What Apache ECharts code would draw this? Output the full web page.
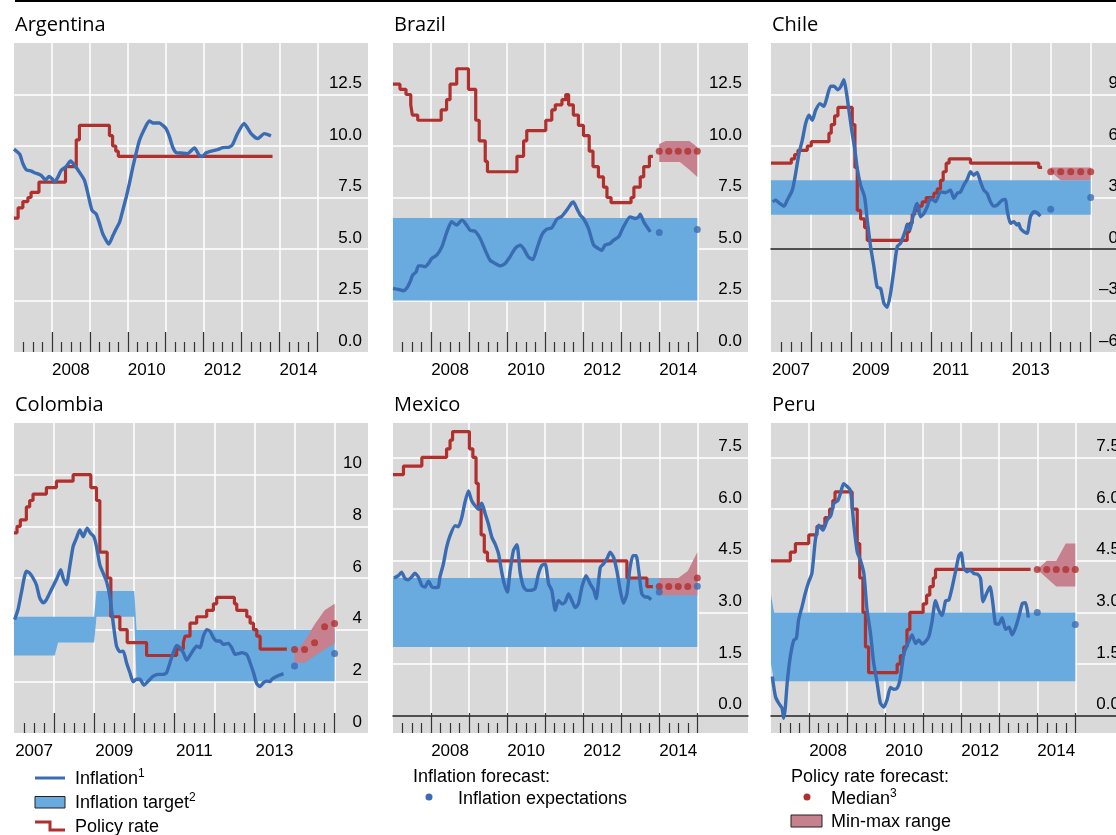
<!DOCTYPE html>
<html><head><meta charset="utf-8">
<script src="https://cdn.jsdelivr.net/npm/echarts@6/dist/echarts.min.js"></script>
<style>html,body{margin:0;padding:0;background:#fff}#c{width:1116px;height:835px}</style>
</head><body><div id="c"></div>
<script>
// x values are months since January 2007
const majorTicks = [12,24,36,48,60,72,84,96];
const minorTicks = [3,6,9,15,18,21,27,30,33,39,42,45,51,54,57,63,66,69,75,78,81,87,90,93];
const evenYearLabels = [18,42,66,90];   // 2008, 2010, 2012, 2014
const oddYearLabels = [6,30,54,78];     // 2007, 2009, 2011, 2013
const ticks15 = [0,2.5,5,7.5,10,12.5];
const ticksChile = [-6,-3,0,3,6,9];
const ticksColombia = [0,2,4,6,8,10];
const ticks85 = [0,1.5,3,4.5,6,7.5];

// Argentina
const argInfl = [[0,9.85],[1.8,9.6],[2.8,9.15],[3.9,8.85],[5.5,8.78],[6.5,8.7],[7.6,8.65],[8.6,8.57],[10,8.36],[11.1,8.52],[12.1,8.4],[12.8,8.25],[13.9,8.49],[14.9,8.81],[16.5,9.0],[17.9,9.27],[19.2,9.06],[20.7,8.73],[22.3,8.33],[23.4,7.68],[24.7,6.87],[26,6.7],[27.1,6.22],[28.1,5.73],[29.2,5.41],[30,5.24],[31.3,5.65],[32.3,5.97],[33.4,6.3],[34.4,6.87],[35.5,7.52],[36.5,8.17],[37.6,8.98],[38.6,9.63],[39.7,10.28],[41.3,10.84],[42.8,11.22],[43.9,11.12],[46,11.12],[47.1,11.0],[48.1,10.84],[49.2,10.44],[50.2,9.95],[51.3,9.68],[52.8,9.66],[54.9,9.63],[57.1,9.9],[58.6,9.55],[59.7,9.5],[60.7,9.66],[62.8,9.76],[64.4,9.82],[66,9.92],[68.1,9.95],[69.2,10.08],[70.7,10.6],[72.8,11.09],[75,10.6],[77.1,10.36],[79.2,10.6],[81.3,10.49]];
const argPolicy = [[0,6.5],[1.3,7.0],[2.8,7.3],[4.4,7.5],[5.4,7.75],[7.9,8.25],[16.3,9.0],[19.7,10.3],[20.7,11.0],[30.2,10.5],[31.2,10.0],[32.2,9.75],[33,9.5],[81.8,9.5]];

// Brazil
const braInfl = [[0,3.09],[1.7,3.04],[3.3,2.97],[4.3,3.09],[5.4,3.41],[6.2,3.73],[7.3,3.89],[8,4.18],[9.1,4.18],[10.1,4.14],[11.2,4.3],[12.2,4.54],[13.8,4.7],[15.4,5.1],[17,5.83],[18.5,6.32],[20.1,6.16],[21.7,6.4],[22.7,6.27],[24.3,5.91],[25.9,5.86],[27.5,5.51],[29.1,4.94],[30.6,4.46],[32.2,4.3],[33.8,4.18],[35.4,4.3],[36.9,4.62],[38.5,5.02],[40.1,5.19],[41.2,5.02],[42.7,4.62],[44.1,4.49],[45.4,5.02],[46.9,5.67],[48.5,5.96],[50.1,6.03],[51.7,6.45],[53.3,6.59],[54.8,6.88],[56.4,7.24],[56.9,7.29],[58,6.96],[59.1,6.64],[60.1,6.48],[61.7,5.99],[63.3,5.19],[64.8,5.02],[65.9,4.94],[66.9,5.19],[68.5,5.27],[69.6,5.43],[71.2,5.59],[72.7,6.07],[74.8,6.56],[76.4,6.48],[77.5,6.56],[78,6.69],[79.1,6.32],[81.2,5.83]];
const braPolicy = [[0,13.0],[2.2,12.75],[4.1,12.5],[5.6,12.0],[6.1,11.5],[7.8,11.25],[15.2,11.75],[16.9,12.25],[18,13.0],[20.1,13.75],[23.8,12.75],[26.1,11.25],[27.2,10.25],[29.1,9.25],[29.8,8.75],[39.1,9.5],[41.2,10.25],[42.2,10.75],[48.2,11.25],[50.1,11.75],[51.2,12.0],[53.3,12.25],[54.5,12.5],[55.4,12.0],[56.9,11.5],[58.5,11.0],[60.1,10.5],[61.9,9.75],[63.1,9.0],[64.8,8.5],[66.4,8.0],[67.5,7.5],[68.8,7.25],[75.1,7.5],[76,8.0],[78,8.5],[79.1,9.0],[80.9,9.5],[82,9.5]];
const braTarget = [[0,2.5,6.5],[96,2.5,6.5]];
const braExp = [[84,5.8],[96,5.95]];
const braMedian = [[84,9.75],[87,9.75],[90,9.75],[93,9.75],[96,9.75]];
const braRange = [[84,9.22,10.1],[86,9.22,10.24],[90.5,9.22,10.24],[93.5,8.85,10.24],[96,8.5,9.95]];

// Chile
const chiInfl = [[0.5,2.75],[1.4,2.85],[2.4,2.69],[3.9,2.5],[4.9,2.85],[6.4,3.43],[7.4,4.4],[8.4,5.56],[9.4,6.34],[10.4,7.31],[11.4,7.79],[12.4,7.5],[13.4,8.08],[14.7,8.47],[15.9,8.31],[16.7,8.76],[17.9,9.48],[18.9,9.48],[20.1,9.28],[20.9,9.44],[21.9,9.86],[22.7,9.05],[23.4,8.08],[24.4,6.72],[25.2,5.76],[25.9,4.69],[26.9,3.72],[28.1,3.04],[28.9,1.69],[29.9,0.14],[30.9,-1.03],[31.9,-2.23],[32.9,-2.29],[33.9,-3.16],[34.9,-3.39],[35.9,-2.58],[36.9,-1.22],[37.9,0.14],[38.9,0.33],[40.4,1.1],[40.9,1.45],[41.7,1.1],[42.4,1.69],[43.4,2.46],[43.9,2.66],[44.9,1.88],[45.9,2.07],[46.9,2.46],[47.9,2.95],[49.4,2.75],[50.9,3.33],[52.4,3.28],[53.9,3.43],[54.9,2.95],[55.9,3.24],[56.9,3.33],[57.9,3.72],[58.9,4.05],[59.9,4.5],[60.9,4.3],[61.9,4.46],[62.9,3.91],[63.9,3.43],[64.9,3.24],[65.9,2.75],[66.9,2.5],[67.9,2.56],[69.4,2.85],[70.4,2.89],[70.9,2.27],[71.9,1.49],[72.9,1.59],[73.9,1.4],[74.4,1.49],[74.9,1.2],[75.9,1.01],[76.9,0.91],[77.9,1.88],[78.9,2.17],[79.9,2.11],[80.9,1.92]];
const chiPolicy = [[0,5.0],[6.1,5.25],[7.1,5.5],[8.1,5.75],[10.9,6.0],[12.1,6.25],[17.4,6.75],[18.1,7.25],[19.1,7.75],[20.1,8.25],[24.4,7.25],[25.2,4.75],[25.9,2.25],[26.9,1.75],[28.1,1.25],[28.9,0.5],[40.9,1.0],[41.6,1.5],[42.4,2.0],[43.1,2.25],[44.4,2.5],[45.4,2.75],[46.6,3.0],[48.9,3.25],[49.9,3.5],[50.9,4.0],[51.7,4.5],[52.6,5.0],[53.5,5.25],[59.9,5.0],[80.4,4.75],[81.4,4.75]];
const chiTarget = [[0,2,4],[96,2,4]];
const chiExp = [[84,2.31],[96,3.0]];
const chiMedian = [[84,4.5],[87,4.5],[90,4.5],[93,4.5],[96,4.5]];
const chiRange = [[84,4.5,4.75],[87,4.0,4.75],[90,4.0,4.75],[93,4.0,4.75],[96,4.0,4.75]];

// Colombia
const colInfl = [[0.2,4.39],[1.2,4.78],[2.2,5.42],[3.7,6.26],[4.7,6.19],[5.7,6.0],[6.7,5.74],[7.7,5.23],[8.7,5.04],[9.7,5.16],[10.7,5.42],[11.7,5.68],[12.9,6.0],[14,6.32],[14.7,6.0],[15.7,5.74],[16.7,6.45],[17.7,7.22],[18.7,7.54],[19.7,7.86],[20.7,7.6],[21.9,7.93],[22.9,7.73],[23.9,7.6],[24.7,7.22],[25.7,6.51],[26.7,6.19],[27.7,5.87],[28.7,5.29],[29.7,4.26],[30.7,3.36],[31.7,3.15],[32.7,3.17],[33.7,2.72],[34.7,2.34],[35.7,1.98],[36.7,2.08],[37.7,2.08],[38.9,1.85],[40.2,2.01],[41.7,2.2],[43.2,2.27],[44.7,2.27],[45.7,2.34],[46.7,2.72],[47.7,3.11],[48.7,3.39],[49.7,3.3],[50.7,3.11],[51.7,2.82],[53.2,3.11],[54.7,3.36],[55.7,3.3],[56.7,3.75],[57.7,4.0],[58.7,3.94],[59.7,3.69],[60.7,3.56],[61.7,3.56],[62.7,3.43],[64.2,3.47],[65.2,3.3],[66.2,3.04],[67.2,3.07],[68.2,3.11],[69.7,3.04],[70.7,2.72],[71.7,2.34],[72.7,1.91],[73.7,1.8],[74.7,1.95],[75.7,2.01],[76.7,1.99],[77.2,2.08],[78.7,2.2],[80.7,2.3]];
const colPolicy = [[0,7.75],[0.9,8.0],[1.9,8.25],[3.7,8.75],[4.7,9.0],[5.7,9.25],[9.7,9.5],[12.7,9.75],[17.7,10.0],[23,9.5],[24.7,9.0],[25.7,7.0],[27.9,6.0],[29,4.5],[31.7,4.0],[33.9,3.5],[39.7,3.0],[48.7,3.25],[50.7,3.5],[51.2,3.75],[52.7,4.25],[54.7,4.5],[57.7,4.75],[59.7,5.0],[60.7,5.25],[66,5.0],[66.7,4.75],[69.7,4.5],[70.7,4.25],[71.7,4.0],[72.7,3.75],[73.7,3.25],[81.7,3.25]];
const colTarget = [[0,3.0,4.5],[12.2,3.0,4.5],[13.2,3.5,4.5],[24,3.5,4.5],[24.7,4.5,5.5],[36,4.5,5.5],[36.7,2.0,4.0],[96,2.0,4.0]];
const colExp = [[84,2.59],[96,3.08]];
const colMedian = [[84,3.23],[87,3.23],[90,3.49],[93,4.11],[96,4.24]];
const colRange = [[84,2.72,3.1],[87,2.72,3.56],[90,2.98,4.2],[93,3.23,4.75],[96,3.47,5.0]];

// Mexico
const mexInfl = [[0.3,4.0],[1.7,4.07],[2.7,4.17],[3.8,3.98],[4.8,3.95],[5.9,4.03],[6.9,4.14],[8,4.03],[9.1,3.78],[10.1,3.74],[11.2,3.91],[12.2,3.75],[13.3,3.72],[14.3,3.74],[14.8,4.03],[15.9,4.41],[16.9,4.89],[18,5.23],[19.6,5.52],[20.6,5.49],[21.7,5.76],[22.7,6.2],[23.8,6.53],[24.8,6.25],[25.9,6.1],[26.9,6.0],[28,6.17],[29.1,5.86],[30.1,5.57],[31.2,5.18],[32.2,4.99],[33.3,4.7],[34.3,4.17],[35.1,3.83],[36.1,3.59],[36.9,4.17],[38,4.8],[39.1,4.97],[40.1,4.17],[41.2,3.74],[42.2,3.64],[43.3,3.64],[44.8,3.69],[45.9,4.12],[46.9,4.36],[48,4.41],[49.1,3.83],[50.1,3.64],[51.2,3.06],[52.2,3.35],[53.3,3.25],[54.3,3.3],[55.4,3.54],[56.4,3.35],[57.5,3.14],[58.5,3.25],[59.6,3.74],[60.9,4.07],[62.2,3.83],[63.3,3.66],[64.1,3.4],[65.4,4.31],[66.4,4.41],[67.5,4.56],[68.5,4.75],[69.6,4.6],[70.6,4.22],[71.7,3.64],[72.7,3.27],[73.8,3.54],[74.8,4.31],[75.7,4.65],[76.7,4.65],[77.5,4.22],[78.5,3.54],[79.6,3.45],[80.3,3.45],[81.4,3.37]];
const mexPolicy = [[0,7.0],[3.3,7.25],[9.1,7.5],[16.9,7.75],[18,8.0],[18.8,8.25],[24.1,7.75],[25.2,7.5],[26.2,6.75],[26.9,6.0],[27.8,5.25],[28.8,4.75],[29.8,4.5],[73.8,4.0],[80.1,3.75],[82,3.75]];
const mexTarget = [[0,2,4],[96,2,4]];
const mexExp = [[84,3.59],[96,3.76]];
const mexMedian = [[84,3.75],[87,3.75],[90,3.75],[93,3.75],[96,4.0]];
const mexRange = [[84,3.5,4.0],[87,3.5,4.0],[90,3.5,4.0],[93,3.5,4.2],[96,3.5,4.75]];

// Peru
const peruInfl = [[0.4,1.14],[1.4,0.56],[2.4,0.37],[3.5,0.22],[4,-0.07],[4.5,0.22],[5.1,0.95],[6.1,1.72],[7.2,2.2],[8,2.25],[8.7,2.78],[9.8,3.17],[10.8,3.55],[11.9,3.89],[12.9,4.13],[14,5.1],[15.1,5.53],[16.4,5.39],[17.7,5.68],[18.9,5.82],[19.8,6.16],[21.1,6.25],[21.9,6.45],[22.9,6.74],[24.2,6.64],[25.1,6.54],[26.1,5.58],[27.2,4.76],[28.2,4.52],[29.3,4.13],[30.3,3.07],[31.4,2.39],[32.4,1.53],[33.5,0.95],[34.5,0.37],[35.6,0.25],[36.6,0.46],[37.7,0.82],[38.7,0.77],[39.8,0.8],[40.8,1.09],[41.9,1.81],[42.9,2.03],[44.5,2.35],[45.6,2.1],[46.6,2.2],[47.7,2.08],[48.7,2.15],[49.8,2.3],[50.8,2.73],[51.9,3.34],[52.9,3.07],[54,2.91],[55.1,3.34],[56.1,3.36],[57.2,3.75],[58.2,4.18],[59.3,4.66],[60,4.73],[60.8,4.28],[61.9,4.18],[62.9,4.23],[64,4.13],[65.1,4.11],[66.1,3.99],[66.9,3.31],[68,3.55],[69.1,3.75],[70,3.26],[70.8,2.68],[71.9,2.66],[72.9,2.85],[74,2.51],[75.1,2.57],[76.1,2.35],[77.2,2.57],[78.2,2.88],[79.3,3.26],[80.3,3.28],[81.2,2.85]];
const peruPolicy = [[0,4.5],[6.1,4.75],[7.7,5.0],[11.9,5.25],[14.5,5.5],[17,5.75],[18.5,6.0],[19.5,6.25],[20.2,6.5],[25.6,6.0],[27.2,5.0],[28,4.0],[29,3.0],[29.8,2.0],[30.8,1.25],[39.8,1.5],[40.8,1.75],[41.9,2.0],[42.9,2.5],[43.8,3.0],[48,3.25],[49.1,3.5],[50.1,3.75],[51.2,4.0],[51.9,4.25],[81.9,4.25]];
const peruTarget = [[0,1.5,3.5],[1,1.0,3.0],[96,1.0,3.0]];
const peruExp = [[84,3.0],[96,2.65]];
const peruMedian = [[84,4.25],[87,4.25],[90,4.25],[93,4.25],[96,4.25]];
const peruRange = [[84,4.25,4.25],[87,4.0,4.5],[90,3.75,4.5],[93,3.75,5.0],[96,3.75,5.0]];

const FONT = '"Open Sans", sans-serif';
const LFONT = '"Liberation Sans", Arial, sans-serif';
const C = {bg:'#d9d9d9', infl:'#3a6cb3', band:'#69aadf', policy:'#b0302e', range:'#c7808d', tick:'#333'};

const panels = [
  {title:'Argentina', left:14, top:43, width:354, height:309, xMax:112, yMin:0, yMax:15, yl:ticks15, dec:1, years:evenYearLabels, infl:argInfl, policy:argPolicy},
  {title:'Brazil', left:393, top:43, width:355, height:309, xMax:112, yMin:0, yMax:15, yl:ticks15, dec:1, years:evenYearLabels, infl:braInfl, policy:braPolicy, target:braTarget, exp:braExp, median:braMedian, range:braRange},
  {title:'Chile', left:771, top:43, width:353, height:309, xMax:106, yMin:-6, yMax:12, yl:ticksChile, dec:0, years:oddYearLabels, infl:chiInfl, policy:chiPolicy, target:chiTarget, exp:chiExp, median:chiMedian, range:chiRange},
  {title:'Colombia', left:14, top:423, width:354, height:310, xMax:106, yMin:0, yMax:12, yl:ticksColombia, dec:0, years:oddYearLabels, infl:colInfl, policy:colPolicy, target:colTarget, exp:colExp, median:colMedian, range:colRange},
  {title:'Mexico', left:393, top:423, width:355, height:310, xMax:112, yMin:-0.5, yMax:8.5, yl:ticks85, dec:1, years:evenYearLabels, infl:mexInfl, policy:mexPolicy, target:mexTarget, exp:mexExp, median:mexMedian, range:mexRange},
  {title:'Peru', left:771, top:423, width:355, height:310, xMax:112, yMin:-0.5, yMax:8.5, yl:ticks85, dec:1, years:evenYearLabels, infl:peruInfl, policy:peruPolicy, target:peruTarget, exp:peruExp, median:peruMedian, range:peruRange}
];

function polygon(xi, yi, rows, color) {
  return {type:'custom', xAxisIndex:xi, yAxisIndex:yi, z:1, silent:true, animation:false,
    data:[[rows[0][0], rows[0][1]]],
    renderItem: function (params, api) {
      const up = rows.map(r => api.coord([r[0], r[2]]));
      const dn = rows.slice().reverse().map(r => api.coord([r[0], r[1]]));
      return {type:'polygon', shape:{points: up.concat(dn)}, style:{fill: color}};
    }};
}

const grids = [], xAxes = [], yAxes = [], series = [];
const AX = 4; // x axes per panel
const AY = 2; // y axes per panel

panels.forEach((p, gi) => {
  grids.push({left:p.left, top:p.top, width:p.width, height:p.height, show:true, backgroundColor:C.bg,
    borderWidth:0, containLabel:false, outerBoundsMode:'none'});
  const xi = xAxes.length, yi = yAxes.length;
  const base = {type:'value', gridIndex:gi, position:'bottom', min:0, max:p.xMax};
  // 0: vertical white grid lines (lowest)
  xAxes.push(Object.assign({}, base, {z:0,
    axisLine:{show:false, onZero:false}, axisTick:{show:false, customValues:majorTicks},
    splitLine:{show:true, lineStyle:{color:'#ffffff', width:1.5}}, axisLabel:{show:false}}));
  // 1: yearly ticks and year labels
  xAxes.push(Object.assign({}, base, {z:2,
    axisLine:{show:false, onZero:false},
    axisTick:{show:true, inside:true, length:20, customValues:majorTicks, lineStyle:{color:C.tick, width:1.2}},
    splitLine:{show:false},
    axisLabel:{show:true, customValues:p.years, formatter:v => String(2007 + Math.floor(v / 12)),
      fontSize:17, fontFamily:LFONT, color:'#000', margin:10}}));
  // 2: quarterly ticks
  xAxes.push(Object.assign({}, base, {z:2,
    axisLine:{show:false, onZero:false},
    axisTick:{show:true, inside:true, length:10, customValues:minorTicks, lineStyle:{color:C.tick, width:1.2}},
    splitLine:{show:false}, axisLabel:{show:false}}));
  // 3: zero line
  xAxes.push(Object.assign({}, base, {z:2,
    axisLine:{show:p.yMin < 0, onZero:true, onZeroAxisIndex:yi, lineStyle:{color:'#222', width:1.5}},
    axisTick:{show:false}, splitLine:{show:false}, axisLabel:{show:false}}));
  const split = p.yl.filter(v => v !== 0 && v > p.yMin);
  // y: horizontal white grid lines (lowest)
  yAxes.push({type:'value', gridIndex:gi, position:'right', min:p.yMin, max:p.yMax, z:0,
    axisLine:{show:false}, axisTick:{show:false, customValues:split},
    splitLine:{show:true, lineStyle:{color:'#ffffff', width:1.5}}, axisLabel:{show:false}});
  // y: value labels (on top)
  yAxes.push({type:'value', gridIndex:gi, position:'right', min:p.yMin, max:p.yMax, z:2,
    axisLine:{show:false}, axisTick:{show:false}, splitLine:{show:false},
    axisLabel:{show:true, inside:true, customValues:p.yl, verticalAlign:'bottom', margin:6, lineHeight:22,
      fontSize:17, fontFamily:LFONT, color:'#000',
      formatter:v => p.dec ? v.toFixed(1) : (v < 0 ? '\u2013' + Math.abs(v) : String(v))}});
  const dx = xi + 1;
  if (p.target) series.push(polygon(dx, yi, p.target, C.band));
  if (p.range) series.push(polygon(dx, yi, p.range, C.range));
  series.push({type:'line', xAxisIndex:dx, yAxisIndex:yi, data:p.policy, step:'end', symbol:'none',
    lineStyle:{color:C.policy, width:3.2}, z:3, silent:true, animation:false});
  series.push({type:'line', xAxisIndex:dx, yAxisIndex:yi, data:p.infl, smooth:0.2, symbol:'none',
    lineStyle:{color:C.infl, width:3.4}, z:4, silent:true, animation:false});
  if (p.median) series.push({type:'scatter', xAxisIndex:dx, yAxisIndex:yi, data:p.median, symbolSize:7,
    itemStyle:{color:C.policy}, z:5, silent:true, animation:false});
  if (p.exp) series.push({type:'scatter', xAxisIndex:dx, yAxisIndex:yi, data:p.exp, symbolSize:7,
    itemStyle:{color:C.infl}, z:5, silent:true, animation:false});
});

const chart = echarts.init(document.getElementById('c'), null, {renderer:'canvas'});
chart.setOption({animation:false, grid:grids, xAxis:xAxes, yAxis:yAxes, series:series});

// decorations: top rule, titles, tick-zone strips (grid lines stop where ticks begin), legend
const graphics = [{type:'rect', z:1, shape:{x:15, y:0, width:1101, height:2}, style:{fill:'#000'}}];
panels.forEach((p, gi) => {
  const x0 = chart.convertToPixel({xAxisIndex: gi * AX + 1}, 0);
  const x1 = chart.convertToPixel({xAxisIndex: gi * AX + 1}, p.xMax);
  const yb = chart.convertToPixel({yAxisIndex: gi * AY}, p.yMin);
  let yt = yb - 20;
  if (p.yMin < 0) yt = Math.max(yt, chart.convertToPixel({yAxisIndex: gi * AY}, 0));
  graphics.push({type:'rect', z:1, silent:true, shape:{x:x0, y:yt, width:x1 - x0, height:yb - yt}, style:{fill:C.bg}});
  graphics.push({type:'text', z:1, x:p.left + 1, y:p.top - 17.5,
    style:{text:p.title, font:'20px ' + FONT, fill:'#000', verticalAlign:'middle'}});
});
function legText(x, y, main, sup) {
  const rich = {a:{fontSize:18, fontFamily:LFONT, fill:'#000', lineHeight:22},
                s:{fontSize:12, fontFamily:LFONT, fill:'#000', verticalAlign:'top', lineHeight:22}};
  return {type:'text', z:1, x:x, y:y, style:{text:'{a|' + main + '}' + (sup ? '{s|' + sup + '}' : ''), rich:rich, verticalAlign:'middle'}};
}
graphics.push(
  {type:'line', z:1, shape:{x1:35, y1:778, x2:65, y2:778}, style:{stroke:C.infl, lineWidth:3}},
  legText(75, 779, 'Inflation', '1'),
  {type:'rect', z:1, shape:{x:35, y:796.5, width:30, height:11.5}, style:{fill:C.band, stroke:'#222', lineWidth:1}},
  legText(75, 803, 'Inflation target', '2'),
  {type:'polyline', z:1, shape:{points:[[35,822],[50,822],[50,830],[65,830]]}, style:{stroke:C.policy, lineWidth:3, fill:null}},
  legText(75, 827, 'Policy rate'),
  legText(413, 777, 'Inflation forecast:'),
  {type:'circle', z:1, shape:{cx:429, cy:797, r:3.5}, style:{fill:C.infl}},
  legText(458, 799, 'Inflation expectations'),
  legText(791, 777, 'Policy rate forecast:'),
  {type:'circle', z:1, shape:{cx:807, cy:797, r:3.5}, style:{fill:C.policy}},
  legText(831, 799, 'Median', '3'),
  {type:'rect', z:1, shape:{x:791, y:815, width:31, height:12}, style:{fill:C.range, stroke:'#222', lineWidth:1}},
  legText(831, 822, 'Min-max range')
);
chart.setOption({graphic: graphics});
</script></body></html>
